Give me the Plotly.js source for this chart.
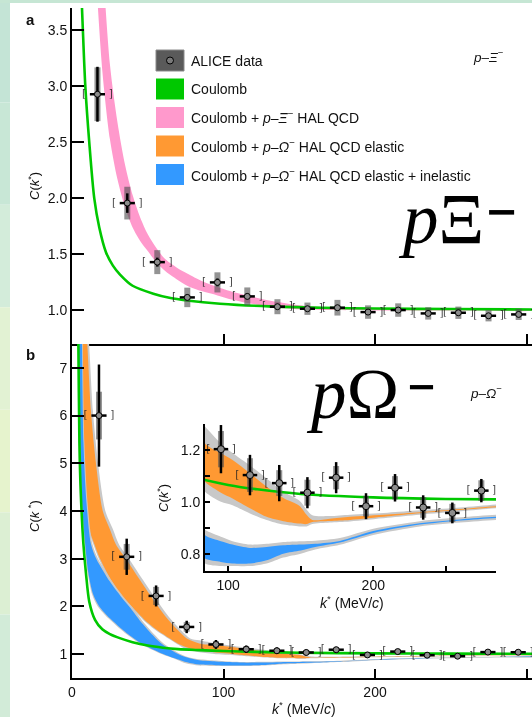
<!DOCTYPE html>
<html><head><meta charset="utf-8">
<script src="https://cdn.plot.ly/plotly-3.0.1.min.js"></script>
<style>html,body{margin:0;padding:0;background:#fff;}#chart{width:532px;height:717px;will-change:transform;}#chart text{-webkit-font-smoothing:antialiased;}</style>
</head><body><div id="chart"></div>
<script>
// ================= DATA =================
// Panel a : p–Ξ− correlation (ALICE)
const kXi    = [16.8, 36.5, 56.3, 76.1, 96.0, 115.7, 135.6, 155.4, 175.2, 195.4, 215.3, 235.1, 255.0, 274.9, 294.8];
const cXi    = [2.93, 1.958, 1.431, 1.116, 1.25, 1.125, 1.033, 1.015, 1.024, 0.985, 1.003, 0.973, 0.979, 0.952, 0.964];
const statXi = [0.245, 0.087, 0.04, 0.025, 0.035, 0.025, 0.02, 0.02, 0.02, 0.02, 0.02, 0.02, 0.02, 0.02, 0.02];
const sysXi  = [0.24, 0.146, 0.107, 0.087, 0.09, 0.08, 0.067, 0.055, 0.07, 0.06, 0.06, 0.055, 0.055, 0.05, 0.05];
// Coulomb p–Ξ−
const coulXiK = [5.7, 7, 8.8, 11.4, 14.7, 18, 22.4, 27, 31.7, 40, 53.7, 65, 75.7, 97.7, 130, 165, 200, 250, 310];
const coulXiC = [4.0, 3.56, 3.0, 2.5, 2.0, 1.74, 1.52, 1.40, 1.32, 1.22, 1.149, 1.11, 1.089, 1.06, 1.036, 1.024, 1.017, 1.012, 1.008];
// Coulomb + p–Ξ− HAL QCD band
const halXiK  = [16, 20, 25, 30, 35, 40, 45, 50, 55, 60, 65, 70, 76, 86, 96, 106, 116, 126, 136, 150, 170, 200, 250, 310];
const halXiLo = [3.95, 3.14, 2.53, 2.17, 1.92, 1.74, 1.62, 1.53, 1.44, 1.37, 1.315, 1.27, 1.22, 1.17, 1.134, 1.095, 1.065, 1.042, 1.024, 1.01, 1.003, 1.0, 0.998, 0.998];
const halXiHi = [5.0, 4.15, 3.2, 2.68, 2.3, 2.03, 1.83, 1.68, 1.57, 1.48, 1.42, 1.375, 1.33, 1.26, 1.208, 1.165, 1.134, 1.1, 1.074, 1.045, 1.025, 1.012, 1.004, 1.0];

// Panel b : p–Ω− correlation (ALICE)
const kOm    = [17.8, 36.1, 55.5, 75.7, 95.0, 115.0, 135.2, 154.6, 174.4, 195.0, 215.0, 234.4, 254.5, 274.5, 294.5];
const cOm    = [6.0, 3.04, 2.22, 1.57, 1.203, 1.103, 1.072, 1.035, 1.093, 0.983, 1.054, 0.978, 0.957, 1.043, 1.04];
const statOm = [1.07, 0.38, 0.22, 0.13, 0.093, 0.078, 0.07, 0.06, 0.06, 0.05, 0.053, 0.047, 0.04, 0.045, 0.045];
const sysOm  = [0.5, 0.27, 0.19, 0.1, 0.07, 0.065, 0.05, 0.05, 0.045, 0.04, 0.045, 0.04, 0.035, 0.04, 0.04];
// Coulomb p–Ω−
const coulOmK = [3.6, 4.2, 4.9, 5.8, 7.5, 9.2, 11.4, 15.2, 20, 25, 32, 40, 50, 60, 70, 84, 100, 120, 150, 200, 250, 310];
const coulOmC = [8.8, 7.52, 5.42, 4.37, 3.32, 2.7, 2.1, 1.72, 1.52, 1.42, 1.33, 1.25, 1.18, 1.135, 1.105, 1.084, 1.065, 1.048, 1.03, 1.017, 1.011, 1.008];
// Coulomb + p–Ω− HAL QCD elastic (orange band, and its grey outer band)
const elHiK = [7.5, 10.1, 12.5, 15.8, 20.3, 25, 29, 36, 45, 55, 62, 70, 76, 84, 95, 103, 115, 126.5, 138, 149, 154, 158, 170, 184, 210, 232, 260, 285, 310];
const elHiC = [8.8, 7.5, 6.1, 5.0, 4.0, 3.62, 3.3, 2.98, 2.55, 2.08, 1.78, 1.50, 1.32, 1.225, 1.187, 1.161, 1.11, 1.058, 1.015, 0.985, 0.95, 0.93, 0.935, 0.942, 0.951, 0.96, 0.972, 0.983, 0.988];
const elLoK = [5.6, 6.4, 7.2, 8.1, 9.7, 12, 14.7, 18.5, 25, 32, 40, 50, 60, 70, 76, 84, 95, 103, 115, 126.5, 138, 149, 154, 158, 170, 184, 210, 232, 260, 285, 310];
const elLoC = [9.0, 7.5, 6.0, 5.0, 4.0, 3.55, 3.31, 3.0, 2.6, 2.25, 1.98, 1.66, 1.42, 1.22, 1.14, 1.077, 1.035, 1.013, 0.975, 0.942, 0.925, 0.916, 0.914, 0.922, 0.926, 0.93, 0.944, 0.956, 0.968, 0.979, 0.984];
const elGrayHiK = [8.6, 11.3, 13.8, 17.2, 22, 27, 31, 38, 47, 57, 64, 72, 78, 84, 95, 103, 115, 126.5, 138, 149, 154, 158, 170, 184, 210, 232, 260, 285, 310];
const elGrayHiC = [8.8, 7.5, 6.1, 5.0, 4.0, 3.62, 3.3, 2.98, 2.55, 2.08, 1.78, 1.50, 1.33, 1.29, 1.225, 1.188, 1.14, 1.09, 1.04, 1.005, 0.97, 0.948, 0.945, 0.95, 0.958, 0.967, 0.978, 0.99, 0.995];
const elGrayLoK = [5.2, 6.0, 6.8, 7.6, 9.2, 11.4, 14.0, 17.7, 24, 31, 39, 49, 59, 69, 75, 84, 95, 103, 115, 126.5, 138, 149, 154, 158, 170, 184, 210, 232, 260, 285, 310];
const elGrayLoC = [9.0, 7.5, 6.0, 5.0, 4.0, 3.55, 3.31, 3.0, 2.6, 2.25, 1.98, 1.66, 1.42, 1.22, 1.11, 1.039, 1.0, 0.987, 0.955, 0.93, 0.912, 0.905, 0.905, 0.914, 0.92, 0.924, 0.938, 0.95, 0.963, 0.975, 0.98];
// Coulomb + p–Ω− HAL QCD elastic + inelastic (blue band, and its grey outer band)
const inHiK = [5.8, 6.6, 7.6, 9.5, 12.5, 16, 20.5, 25, 32, 38.3, 47, 58, 69, 76, 84, 95, 103, 115, 126.5, 138, 150, 160, 177, 200, 232, 260, 285, 310];
const inHiC = [9.0, 7.5, 5.42, 4.2, 3.31, 3.0, 2.75, 2.52, 2.22, 1.98, 1.62, 1.25, 1.02, 0.93, 0.871, 0.848, 0.835, 0.822, 0.826, 0.832, 0.835, 0.838, 0.849, 0.887, 0.917, 0.932, 0.942, 0.948];
const inLoK = [4.1, 4.6, 5.3, 6.6, 8.7, 10.8, 14, 18, 25, 32, 40, 47, 58, 69, 76, 84, 95, 103, 115, 126.5, 138, 150, 160, 177, 200, 232, 260, 285, 310];
const inLoC = [9.0, 7.5, 5.42, 4.2, 3.31, 2.7, 2.25, 2.0, 1.75, 1.55, 1.35, 1.2, 1.03, 0.90, 0.83, 0.781, 0.768, 0.762, 0.762, 0.774, 0.80, 0.812, 0.826, 0.843, 0.88, 0.912, 0.928, 0.938, 0.945];
const inGrayHiK = [6.3, 7.1, 8.2, 10.2, 13.5, 17.2, 22, 26.5, 33.5, 40, 48.5, 59.5, 70.5, 77.5, 84, 95, 103, 115, 126.5, 138, 150, 160, 177, 200, 232, 260, 285, 310];
const inGrayHiC = [9.0, 7.5, 5.42, 4.2, 3.31, 3.0, 2.75, 2.52, 2.22, 1.98, 1.62, 1.25, 1.02, 0.93, 0.892, 0.865, 0.848, 0.835, 0.838, 0.845, 0.848, 0.85, 0.86, 0.896, 0.925, 0.94, 0.95, 0.955];
const inGrayLoK = [3.8, 4.3, 5.0, 6.3, 8.3, 10.3, 13.3, 17, 24, 31, 39, 46, 57, 68, 75, 84, 95, 103, 115, 126.5, 138, 150, 160, 177, 200, 232, 260, 285, 310];
const inGrayLoC = [9.0, 7.5, 5.42, 4.2, 3.31, 2.7, 2.25, 2.0, 1.75, 1.55, 1.35, 1.2, 1.03, 0.90, 0.81, 0.762, 0.752, 0.752, 0.752, 0.762, 0.785, 0.80, 0.816, 0.834, 0.872, 0.905, 0.92, 0.93, 0.937];

// tick labels
const yTicksA = [1.0, 1.5, 2.0, 2.5, 3.0, 3.5];
const yTickTextA = ['1.0', '1.5', '2.0', '2.5', '3.0', '3.5'];
const yTicksB = [1, 2, 3, 4, 5, 6, 7];
const xTicks = [0, 100, 200, 300];
const xTicksIn = [100, 150, 200, 250];
const xTickTextIn = ['100', '', '200', ''];
const yTicksIn = [0.8, 0.9, 1.0, 1.1, 1.2, 1.3];
const yTickTextIn = ['0.8', '', '1.0', '', '1.2', ''];

const K_ERR = 5;     // horizontal bar half width (MeV/c)
const BRK = 8.8;     // bracket offset (MeV/c)

// ================= STYLE =================
const W = 532, H = 717;
const FONT = 'Liberation Sans, Arial, Helvetica, sans-serif';
const SERIF = 'Liberation Serif, Times New Roman, serif';
const GREEN = '#00c800', PINK = '#ff99cc', ORANGE = '#ff9933', BLUE = '#3399ff', GREY = '#c8c8c8';
const SYS = 'rgba(80,80,80,0.62)';
const BRKCOL = 'rgba(30,30,30,0.85)';
const px = x => x / W, py = y => 1 - y / H;
const X_RANGE = [0, 303.6], XIN_RANGE = [84, 284.6], YIN_RANGE = [0.733, 1.3];

function band(hk, hc, lk, lc, color, xa, ya) {
  return {x: hk.concat(lk.slice().reverse()), y: hc.concat(lc.slice().reverse()),
    xaxis: xa, yaxis: ya, mode: 'lines', fill: 'toself', fillcolor: color,
    line: {width: 0, shape: 'spline', smoothing: 0.8}, hoverinfo: 'skip'};
}
function curve(k, c, color, xa, ya) {
  return {x: k, y: c, xaxis: xa, yaxis: ya, mode: 'lines',
    line: {color: color, width: 2.6, shape: 'spline', smoothing: 0.8}, hoverinfo: 'skip'};
}
function dataTraces(k, c, stat, sys, xa, ya, msize) {
  return [
    {x: k, y: c, xaxis: xa, yaxis: ya, mode: 'markers', marker: {color: 'rgba(0,0,0,0)', size: 1},
      error_y: {type: 'data', array: sys, color: SYS, thickness: 6, width: 0}, hoverinfo: 'skip'},
    {x: k.map(v => v - BRK), y: c, xaxis: xa, yaxis: ya, mode: 'text', text: k.map(() => '['),
      marker: {color: BRKCOL}, textfont: {family: 'DejaVu Sans', size: 10.5, color: BRKCOL}, hoverinfo: 'skip'},
    {x: k.map(v => v + BRK), y: c, xaxis: xa, yaxis: ya, mode: 'text', text: k.map(() => ']'),
      marker: {color: BRKCOL}, textfont: {family: 'DejaVu Sans', size: 10.5, color: BRKCOL}, hoverinfo: 'skip'},
    {x: k, y: c, xaxis: xa, yaxis: ya, mode: 'markers',
      marker: {size: msize, color: '#8c8c8c', line: {color: '#000', width: 1}},
      error_y: {type: 'data', array: stat, color: '#000', thickness: 2.5, width: 0},
      error_x: {type: 'constant', value: K_ERR, color: '#000', thickness: 2.5, width: 0}, hoverinfo: 'skip'}
  ];
}
// keep only points that fall inside the inset window
const inIdx = kOm.map((k, i) => i).filter(i => kOm[i] > XIN_RANGE[0] && kOm[i] < XIN_RANGE[1] && cOm[i] < YIN_RANGE[1] && cOm[i] > YIN_RANGE[0]);
const pick = arr => inIdx.map(i => arr[i]);

const traces = [];
// panel a
traces.push(band(halXiK, halXiHi, halXiK, halXiLo, PINK, 'x', 'y'));
traces.push(curve(coulXiK, coulXiC, GREEN, 'x', 'y'));
traces.push(...dataTraces(kXi, cXi, statXi, sysXi, 'x', 'y', 6));
// panel b and inset
[['x2', 'y2', 6, false], ['x3', 'y3', 7, true]].forEach(([xa, ya, ms, inset]) => {
  traces.push(band(elGrayHiK, elGrayHiC, elGrayLoK, elGrayLoC, GREY, xa, ya));
  traces.push(band(elHiK, elHiC, elLoK, elLoC, ORANGE, xa, ya));
  traces.push(band(inGrayHiK, inGrayHiC, inGrayLoK, inGrayLoC, GREY, xa, ya));
  traces.push(band(inHiK, inHiC, inLoK, inLoC, BLUE, xa, ya));
  traces.push(curve(coulOmK, coulOmC, GREEN, xa, ya));
  if (inset) traces.push(...dataTraces(pick(kOm), pick(cOm), pick(statOm), pick(sysOm), xa, ya, ms));
  else traces.push(...dataTraces(kOm, cOm, statOm, sysOm, xa, ya, ms));
});

const axBase = {showline: true, linewidth: 2, linecolor: '#000', ticks: 'inside', tickwidth: 2,
  tickcolor: '#000', showgrid: false, zeroline: false, fixedrange: true,
  tickfont: {family: FONT, size: 14, color: '#111'}};

const ann = [];
function txt(x, y, text, size, opts) {
  ann.push(Object.assign({xref: 'paper', yref: 'paper', x: px(x), y: py(y), text: text, showarrow: false,
    font: {family: FONT, size: size, color: '#111'}, xanchor: 'center', yanchor: 'middle'}, opts || {}));
}
txt(30, 19, '<b>a</b>', 15);
txt(30, 354, '<b>b</b>', 15);
txt(34, 186, '<i>C</i>(<i>k</i><sup>*</sup>)', 13, {textangle: -90});
txt(34, 516, '<i>C</i>(<i>k</i> <sup>*</sup>)', 13, {textangle: -90});
txt(304, 708, '<i>k</i><sup>*</sup> (MeV/<i>c</i>)', 14);
txt(163, 498, '<i>C</i>(<i>k</i><sup>*</sup>)', 13, {textangle: -90});
txt(352, 602, '<i>k</i><sup>*</sup> (MeV/<i>c</i>)', 14);
txt(488, 56, '<i>p</i>–<i>Ξ</i><sup>−</sup>', 13.5);
txt(486, 392, '<i>p</i>–<i>Ω</i><sup>−</sup>', 13.5);
// big particle labels
ann.push({xref: 'paper', yref: 'paper', x: px(396), y: py(219), xanchor: 'left', yanchor: 'middle', showarrow: false,
  text: '<i>p</i>Ξ', font: {family: SERIF, size: 71, color: '#000'}});
ann.push({xref: 'paper', yref: 'paper', x: px(502), y: py(211), xanchor: 'center', yanchor: 'middle', showarrow: false,
  text: '<b>−</b>', font: {family: 'DejaVu Sans', size: 40, color: '#000'}});
ann.push({xref: 'paper', yref: 'paper', x: px(304), y: py(394), xanchor: 'left', yanchor: 'middle', showarrow: false,
  text: '<i>p</i>Ω', font: {family: SERIF, size: 71, color: '#000'}});
ann.push({xref: 'paper', yref: 'paper', x: px(421), y: py(386), xanchor: 'center', yanchor: 'middle', showarrow: false,
  text: '<b>−</b>', font: {family: 'DejaVu Sans', size: 37, color: '#000'}});

// background strips and legend (shapes + text)
const shapes = [];
const stripCols = ['#c4e4d6', '#c8e7d6', '#d3ecda', '#e2f2d3', '#e6f3cd', '#dcefd3', '#d2ebd8'];
stripCols.forEach((c, i) => {
  shapes.push({type: 'rect', xref: 'paper', yref: 'paper', x0: 0, x1: px(10),
    y0: py((i + 1) * H / stripCols.length), y1: py(i * H / stripCols.length), fillcolor: c, line: {width: 0}, layer: 'below'});
});
shapes.push({type: 'rect', xref: 'paper', yref: 'paper', x0: 0, x1: 1, y0: py(3), y1: 1, fillcolor: '#c6e6d4', line: {width: 0}, layer: 'below'});

const legRows = [
  {y: 60.5, color: '#5a5a5a', text: 'ALICE data'},
  {y: 89, color: GREEN, text: 'Coulomb'},
  {y: 117.5, color: PINK, text: 'Coulomb + <i>p</i>–<i>Ξ</i><sup>−</sup> HAL QCD'},
  {y: 146, color: ORANGE, text: 'Coulomb + <i>p</i>–<i>Ω</i><sup>−</sup> HAL QCD elastic'},
  {y: 174.5, color: BLUE, text: 'Coulomb + <i>p</i>–<i>Ω</i><sup>−</sup> HAL QCD elastic + inelastic'}
];
legRows.forEach((r, i) => {
  shapes.push({type: 'rect', xref: 'paper', yref: 'paper', x0: px(156), x1: px(184), y0: py(r.y + 10.5), y1: py(r.y - 10.5),
    fillcolor: r.color, line: {width: i === 0 ? 1 : 0, color: '#8a8a8a'}});
  txt(189, r.y, r.text, 14, {xanchor: 'left'});
});
shapes.push({type: 'circle', xref: 'paper', yref: 'paper', x0: px(166.5), x1: px(173.5), y0: py(64), y1: py(57),
  fillcolor: '#7a7a7a', line: {color: '#000', width: 1}});

const layout = {
  width: W, height: H, margin: {l: 0, r: 0, t: 0, b: 0},
  paper_bgcolor: '#ffffff', plot_bgcolor: 'rgba(0,0,0,0)', showlegend: false,
  font: {family: FONT, size: 14, color: '#111'},
  xaxis: Object.assign({}, axBase, {domain: [px(72), 1], range: X_RANGE, anchor: 'y', tickvals: xTicks, ticklen: 10, showticklabels: false}),
  yaxis: Object.assign({}, axBase, {domain: [py(344), py(8)], range: [0.7, 3.7], anchor: 'x', tickvals: yTicksA, ticktext: yTickTextA, ticklen: 12}),
  xaxis2: Object.assign({}, axBase, {domain: [px(72), 1], range: X_RANGE, anchor: 'y2', tickvals: xTicks, ticklen: 9}),
  yaxis2: Object.assign({}, axBase, {domain: [py(678), py(344)], range: [0.5, 7.5], anchor: 'x2', tickvals: yTicksB, ticklen: 12}),
  xaxis3: Object.assign({}, axBase, {domain: [px(205), px(496)], range: XIN_RANGE, anchor: 'y3', tickvals: xTicksIn, ticktext: xTickTextIn, ticklen: 5}),
  yaxis3: Object.assign({}, axBase, {domain: [py(571), py(424)], range: YIN_RANGE, anchor: 'x3', tickvals: yTicksIn, ticktext: yTickTextIn, ticklen: 5}),
  annotations: ann, shapes: shapes
};

Plotly.newPlot('chart', traces, layout, {staticPlot: true, displayModeBar: false});
</script></body></html>
